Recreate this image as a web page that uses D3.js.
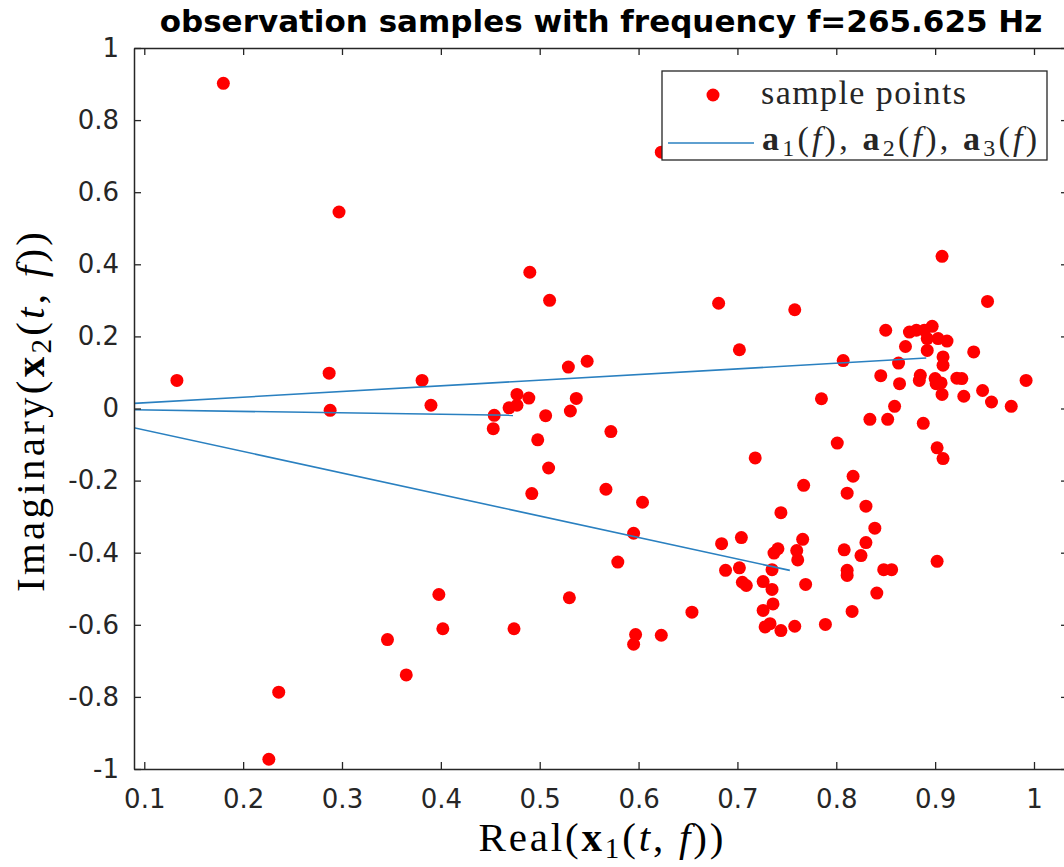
<!DOCTYPE html>
<html>
<head>
<meta charset="utf-8">
<script src="https://cdn.jsdelivr.net/npm/d3@7"></script>
<style>
  html, body { margin: 0; padding: 0; background: #fff; overflow: hidden; }
</style>
</head>
<body>
<div id="main"></div>
<script>
// sample points (real part of x1, imaginary part of x2)
const realPart = [
  0.180, 0.297, 0.133, 0.287, 0.288, 0.381, 0.390, 0.454, 0.453, 0.469,
  0.477, 0.477, 0.489, 0.529, 0.548, 0.537, 0.531, 0.506, 0.572, 0.498,
  0.509, 0.567, 0.492, 0.604, 0.595, 0.579, 0.398, 0.530, 0.402, 0.474,
  0.597, 0.595, 0.623, 0.346, 0.365, 0.236, 0.226, 0.490, 0.510, 0.623,
  0.907, 0.681, 0.758, 0.953, 0.702, 0.850, 0.874, 0.881, 0.889, 0.897,
  0.892, 0.903, 0.912, 0.870, 0.892, 0.807, 0.863, 0.908, 0.908, 0.939,
  0.845, 0.885, 0.884, 0.864, 0.900, 0.906, 0.922, 0.927, 0.901, 0.907,
  0.992, 0.929, 0.948, 0.957, 0.977, 0.785, 0.859, 0.834, 0.852, 0.888,
  0.801, 0.902, 0.908, 0.718, 0.817, 0.767, 0.811, 0.830, 0.744, 0.839,
  0.684, 0.704, 0.737, 0.741, 0.766, 0.760, 0.761, 0.808, 0.830, 0.825,
  0.688, 0.702, 0.735, 0.811, 0.811, 0.848, 0.856, 0.902, 0.705, 0.709,
  0.726, 0.735, 0.769, 0.841, 0.736, 0.726, 0.654, 0.816, 0.728, 0.733,
  0.744, 0.758, 0.789
];
const imagPart = [
  0.902, 0.545, 0.078, 0.098, -0.005, 0.078, 0.009, -0.019, -0.056, 0.002,
  0.039, 0.009, 0.029, 0.115, 0.131, 0.028, -0.007, -0.020, -0.064, -0.087,
  -0.165, -0.224, -0.236, -0.260, -0.346, -0.426, -0.516, -0.525, -0.611, -0.611,
  -0.627, -0.654, -0.629, -0.641, -0.739, -0.787, -0.973, 0.378, 0.300, 0.711,
  0.422, 0.292, 0.274, 0.297, 0.163, 0.217, 0.212, 0.217, 0.217, 0.228,
  0.194, 0.194, 0.187, 0.172, 0.161, 0.133, 0.126, 0.143, 0.120, 0.157,
  0.091, 0.092, 0.078, 0.069, 0.083, 0.071, 0.084, 0.083, 0.069, 0.039,
  0.078, 0.034, 0.050, 0.018, 0.006, 0.027, 0.006, -0.030, -0.030, -0.041,
  -0.096, -0.109, -0.139, -0.137, -0.188, -0.213, -0.235, -0.271, -0.289, -0.332,
  -0.375, -0.358, -0.401, -0.389, -0.363, -0.394, -0.420, -0.392, -0.372, -0.408,
  -0.449, -0.442, -0.447, -0.449, -0.463, -0.447, -0.447, -0.424, -0.482, -0.491,
  -0.480, -0.502, -0.488, -0.512, -0.542, -0.560, -0.565, -0.563, -0.606, -0.597,
  -0.616, -0.604, -0.599
];

// estimated mixing vectors a1, a2, a3 (drawn from the origin)
const aReal = [0.891, 0.473, 0.753];
const aImag = [0.140, -0.019, -0.449];

const xTicks = [0.1, 0.2, 0.3, 0.4, 0.5, 0.6, 0.7, 0.8, 0.9, 1];
const yTicks = [-1, -0.8, -0.6, -0.4, -0.2, 0, 0.2, 0.4, 0.6, 0.8, 1];
const xLim = [0.0896, 1.0344];
const yLim = [-1, 1];

const width = 1064;
const height = 867;
const box = { left: 134, right: 1068, top: 48, bottom: 769 };
const axisColor = "#262626";
const lineColor = "#2a80c0";

const svg = d3.select("#main").append("svg")
  .attr("width", width).attr("height", height)
  .style("display", "block");

const xScale = d3.scaleLinear().domain(xLim).range([box.left, box.right]);
const yScale = d3.scaleLinear().domain(yLim).range([box.bottom, box.top]);

svg.append("clipPath").attr("id", "plot-clip")
  .append("rect")
  .attr("x", box.left).attr("y", box.top)
  .attr("width", box.right - box.left).attr("height", box.bottom - box.top);

const fmt = (d) => String(+d.toFixed(1));

// points
const pts = d3.range(realPart.length).map((i) => [realPart[i], imagPart[i]]);
svg.append("g")
  .attr("clip-path", "url(#plot-clip)")
  .selectAll("circle")
  .data(pts)
  .enter()
  .append("circle")
  .attr("cx", (d) => xScale(d[0]))
  .attr("cy", (d) => yScale(d[1]))
  .attr("r", 6.5)
  .attr("fill", "#ff0000");

// lines from origin to each a_k
svg.append("g")
  .attr("clip-path", "url(#plot-clip)")
  .selectAll("line")
  .data(aReal.map((r, k) => [r, aImag[k]]))
  .enter()
  .append("line")
  .attr("x1", xScale(0)).attr("y1", yScale(0))
  .attr("x2", (d) => xScale(d[0]))
  .attr("y2", (d) => yScale(d[1]))
  .attr("stroke", lineColor)
  .attr("stroke-width", 1.6);

// axes (ticks point inward, MATLAB box style)
const styleAxis = (g) => {
  g.selectAll(".domain").attr("stroke", axisColor).attr("stroke-width", 1.5);
  g.selectAll(".tick line").attr("stroke", axisColor).attr("stroke-width", 1.3);
  g.selectAll("text")
    .attr("fill", axisColor)
    .style("font-family", "DejaVu Sans, sans-serif")
    .style("font-size", "26px");
};

svg.append("g")
  .attr("transform", `translate(0, ${box.bottom})`)
  .call(d3.axisBottom(xScale).tickValues(xTicks).tickFormat(fmt).tickSize(-7).tickSizeOuter(0).tickPadding(21))
  .call(styleAxis);

svg.append("g")
  .attr("transform", `translate(0, ${box.top})`)
  .call(d3.axisTop(xScale).tickValues(xTicks).tickFormat("").tickSize(-7).tickSizeOuter(0))
  .call(styleAxis);

svg.append("g")
  .attr("transform", `translate(${box.left}, 0)`)
  .call(d3.axisLeft(yScale).tickValues(yTicks).tickFormat(fmt).tickSize(-7).tickSizeOuter(0).tickPadding(15))
  .call(styleAxis);

svg.append("g")
  .attr("transform", `translate(${box.right}, 0)`)
  .call(d3.axisRight(yScale).tickValues(yTicks).tickFormat("").tickSize(-7).tickSizeOuter(0))
  .call(styleAxis);

// latex-ish text made of tspans
const mathText = (parent, parts, size, subShift) => {
  const t = parent.append("text")
    .style("font-family", "Liberation Serif, Times New Roman, serif")
    .style("font-size", size + "px")
    .attr("fill", "#000");
  let shift = 0;
  parts.forEach((p) => {
    const ts = t.append("tspan").text(p.s);
    if (p.b) ts.attr("font-weight", "bold");
    if (p.i) ts.attr("font-style", "italic");
    const want = p.sub ? subShift : 0;
    if (want !== shift) {
      ts.attr("dy", want - shift);
      shift = want;
    }
    if (p.sub) ts.style("font-size", Math.round(size * 0.7) + "px");
  });
  return t;
};

// title
svg.append("text")
  .attr("x", (box.left + box.right) / 2)
  .attr("y", 32)
  .attr("text-anchor", "middle")
  .style("font-family", "DejaVu Sans, sans-serif")
  .style("font-size", "31px")
  .style("font-weight", "bold")
  .attr("fill", "#000")
  .text("observation samples with frequency f=265.625 Hz");

// x label
mathText(svg, [
  { s: "Real(" }, { s: "x", b: true }, { s: "1", sub: true }, { s: "(" },
  { s: "t", i: true }, { s: ", " }, { s: "f", i: true }, { s: "))" }
], 41, 7)
  .attr("x", (box.left + box.right) / 2)
  .attr("y", 851)
  .attr("text-anchor", "middle")
  .attr("textLength", 245)
  .attr("lengthAdjust", "spacing");

// y label
mathText(svg, [
  { s: "Imaginary(" }, { s: "x", b: true }, { s: "2", sub: true }, { s: "(" },
  { s: "t", i: true }, { s: ", " }, { s: "f", i: true }, { s: "))" }
], 41, 7)
  .attr("transform", "translate(44, 412) rotate(-90)")
  .attr("text-anchor", "middle")
  .attr("textLength", 360)
  .attr("lengthAdjust", "spacing");

// legend
const legend = svg.append("g");
legend.append("rect")
  .attr("x", 662).attr("y", 71)
  .attr("width", 385).attr("height", 89)
  .attr("fill", "#fff")
  .attr("stroke", axisColor)
  .attr("stroke-width", 1.3);

legend.append("circle")
  .attr("cx", 713).attr("cy", 95)
  .attr("r", 6.5)
  .attr("fill", "#ff0000");

legend.append("line")
  .attr("x1", 668).attr("x2", 754)
  .attr("y1", 143).attr("y2", 143)
  .attr("stroke", lineColor)
  .attr("stroke-width", 1.6);

mathText(legend, [{ s: "sample points" }], 34, 0)
  .attr("x", 761).attr("y", 104)
  .attr("textLength", 205)
  .attr("lengthAdjust", "spacing")
  .attr("fill", "#262626");

mathText(legend, [
  { s: "a", b: true }, { s: "1", sub: true }, { s: "(" }, { s: "f", i: true }, { s: "), " },
  { s: "a", b: true }, { s: "2", sub: true }, { s: "(" }, { s: "f", i: true }, { s: "), " },
  { s: "a", b: true }, { s: "3", sub: true }, { s: "(" }, { s: "f", i: true }, { s: ")" }
], 34, 6)
  .attr("x", 762).attr("y", 150)
  .attr("textLength", 275)
  .attr("lengthAdjust", "spacing")
  .attr("fill", "#262626");
</script>
</body>
</html>
